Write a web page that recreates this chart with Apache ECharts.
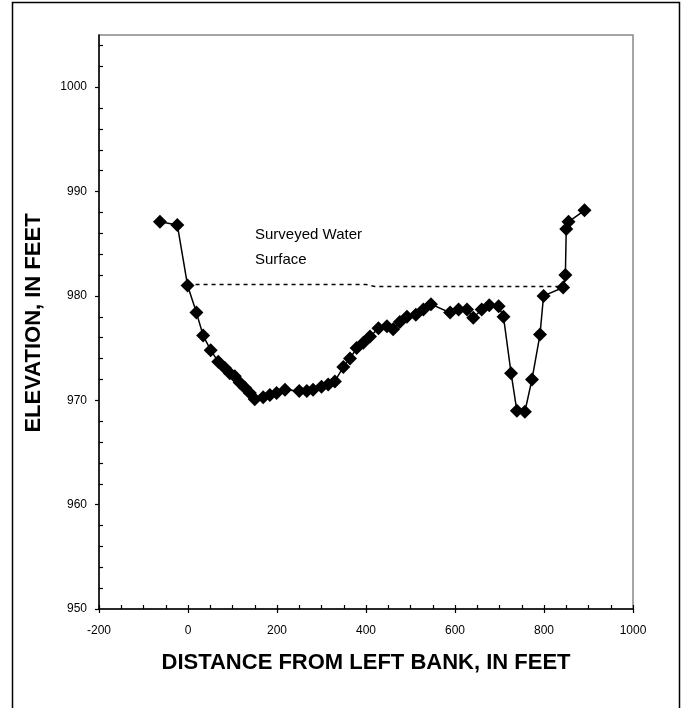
<!DOCTYPE html>
<html>
<head>
<meta charset="utf-8">
<script src="https://cdn.jsdelivr.net/npm/echarts@6/dist/echarts.min.js"></script>
<style>
  html, body { margin: 0; padding: 0; background: #fff; }
  #chart { width: 684px; height: 708px; }
</style>
</head>
<body>
<div id="chart"></div>
<script>
// Cross-section survey: distance from left bank (ft) and bed elevation (ft)
const distance = [-63, -24, -1, 19, 34, 51, 68, 83, 94, 105, 116, 128, 139, 150, 169, 184, 199, 218,
  250, 267, 281, 300, 315, 330, 349, 364, 379, 394, 409, 428, 447, 461, 476, 492, 512, 529, 546,
  589, 608, 627, 641, 660, 677, 698, 709, 726, 739, 757, 773, 791, 799, 843, 848, 850, 855, 891];
const elevation = [987.1, 986.8, 981.0, 978.4, 976.2, 974.8, 973.7, 973.1, 972.6, 972.3, 971.7, 971.2, 970.7, 970.1, 970.3, 970.5, 970.7, 971.0,
  970.9, 970.9, 971.0, 971.3, 971.5, 971.8, 973.2, 974.0, 975.0, 975.5, 976.1, 976.9, 977.1, 976.8, 977.5, 978.0, 978.2, 978.7, 979.2,
  978.4, 978.7, 978.7, 977.9, 978.7, 979.1, 979.0, 978.0, 972.6, 969.0, 968.9, 972.0, 976.3, 980.0, 980.8, 982.0, 986.4, 987.1, 988.2];

// Surveyed water surface line
const waterX = [-1, 400, 420, 843];
const waterY = [981.1, 981.1, 980.9, 980.9];

// Axis tick labels
const xTicks = [-200, 0, 200, 400, 600, 800, 1000];
const yTicks = [950, 960, 970, 980, 990, 1000];

const X_MIN = -200, X_MAX = 1000, Y_MIN = 950, Y_MAX = 1005;
const FONT = "'Liberation Sans', Arial, sans-serif";

// minor tick positions on the elevation axis (every 2 ft, skipping labelled ticks)
const yMinor = [];
for (let v = Y_MIN + 2; v < Y_MAX; v += 2) { if (v % 10 !== 0) yMinor.push(v); }

const bed = distance.map((d, i) => [d, elevation[i]]);
const water = waterX.map((d, i) => [d, waterY[i]]);

const gridRect = { left: 99, top: 35, right: 51, bottom: 99 };

const chart = echarts.init(document.getElementById('chart'), null, { renderer: 'canvas' });
chart.setOption({
  animation: false,
  backgroundColor: '#ffffff',
  grid: [
    Object.assign({ show: true, borderColor: '#888888', borderWidth: 1.5, backgroundColor: 'transparent' }, gridRect),
    Object.assign({ show: false }, gridRect)
  ],
  xAxis: [
    {
      type: 'value', gridIndex: 0, min: X_MIN, max: X_MAX, interval: 200,
      axisLine: { show: true, onZero: false, lineStyle: { color: '#000', width: 1.5 } },
      axisTick: { show: true, inside: false, length: 4, lineStyle: { color: '#000', width: 1.2 } },
      axisLabel: { show: true, margin: 16, color: '#000', fontSize: 12, fontFamily: FONT,
        formatter: v => (xTicks.indexOf(v) >= 0 ? String(v) : '') },
      splitLine: { show: false }
    },
    {
      type: 'value', gridIndex: 1, min: X_MIN, max: X_MAX, interval: 50,
      axisLine: { show: false, onZero: false },
      axisTick: { show: true, inside: true, length: 4, lineStyle: { color: '#000', width: 1.2 } },
      axisLabel: { show: false },
      splitLine: { show: false }
    }
  ],
  yAxis: [
    {
      type: 'value', gridIndex: 0, min: Y_MIN, max: Y_MAX, interval: 10,
      axisLine: { show: true, onZero: false, lineStyle: { color: '#000', width: 1.5 } },
      axisTick: { show: true, inside: false, length: 4, customValues: yTicks, lineStyle: { color: '#000', width: 1.2 } },
      axisLabel: { show: true, margin: 12, color: '#000', fontSize: 12, fontFamily: FONT, customValues: yTicks,
        formatter: v => (yTicks.indexOf(v) >= 0 ? String(v) : '') },
      splitLine: { show: false }
    },
    {
      type: 'value', gridIndex: 1, min: Y_MIN, max: Y_MAX, interval: 10,
      axisLine: { show: false, onZero: false },
      axisTick: { show: true, inside: true, length: 4, customValues: yMinor, lineStyle: { color: '#000', width: 1.2 } },
      axisLabel: { show: false },
      splitLine: { show: false }
    }
  ],
  series: [
    {
      name: 'Water surface', type: 'line', xAxisIndex: 0, yAxisIndex: 0,
      data: water, showSymbol: false, symbol: 'none',
      lineStyle: { color: '#000', width: 1.5, type: [4, 4] },
      z: 2
    },
    {
      name: 'Streambed', type: 'line', xAxisIndex: 0, yAxisIndex: 0,
      data: bed, symbol: 'diamond', symbolSize: 14, showAllSymbol: true,
      itemStyle: { color: '#000' },
      lineStyle: { color: '#000', width: 1.5 },
      z: 3
    }
  ],
  graphic: [
    {
      type: 'rect', silent: true, z: 100,
      shape: { x: 12.5, y: 2.5, width: 667, height: 712 },
      style: { fill: 'none', stroke: '#000', lineWidth: 1.5 }
    },
    {
      type: 'text', x: 255, y: 222, z: 100,
      style: { text: 'Surveyed Water\nSurface', fill: '#000', font: '15px ' + FONT, lineHeight: 25, align: 'left', verticalAlign: 'top' }
    },
    {
      type: 'text', x: 366, y: 663, z: 100,
      style: { text: 'DISTANCE FROM LEFT BANK, IN FEET', fill: '#000', font: 'bold 22px ' + FONT, align: 'center', verticalAlign: 'middle' }
    },
    {
      type: 'text', x: 34, y: 323, rotation: Math.PI / 2, z: 100,
      style: { text: 'ELEVATION, IN FEET', fill: '#000', font: 'bold 22px ' + FONT, align: 'center', verticalAlign: 'middle' }
    }
  ]
});
</script>
</body>
</html>
